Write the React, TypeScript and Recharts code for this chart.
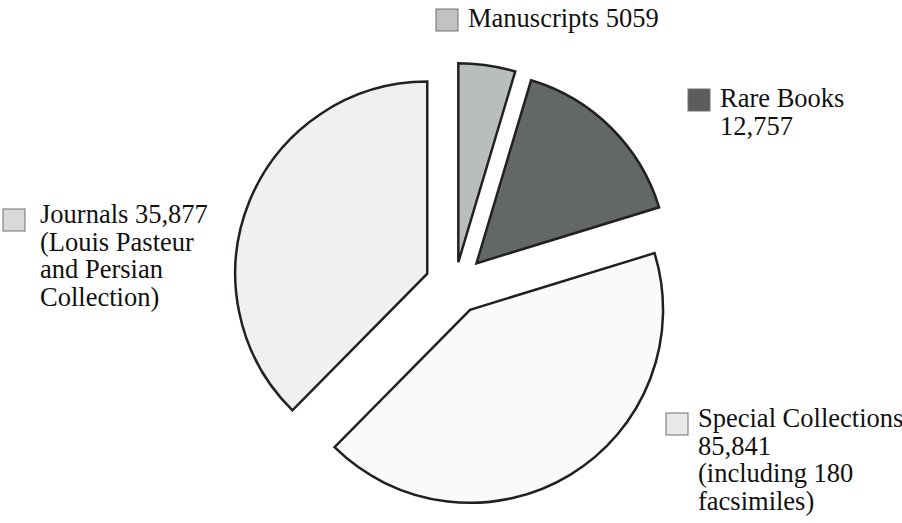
import { Cell, Pie, PieChart } from 'recharts';

// slice order is clockwise from 12 o'clock
const categories = ['Manuscripts', 'Rare Books', 'Special Collections', 'Journals'];
// share of the circle each slice takes in the picture (percent)
const shares = [4.6, 15.6, 42.0, 37.5];
const labelLines = [
    ['Manuscripts 5059'],
    ['Rare Books', '12,757'],
    ['Special Collections', '85,841', '(including 180', 'facsimiles)'],
    ['Journals 35,877', '(Louis Pasteur', 'and Persian', 'Collection)'],
];

const data = categories.map((name, i) => ({ name, value: shares[i] }));

const sliceFill = ['#b9bdbe', '#636867', '#fafafa', '#eff0f0'];
const boxFill = ['#c2c2c2', '#5c5c5c', '#e8e8e8', '#dadada'];
const explode = [23, 30.5, 29, 30];
const radius = [199, 191, 193, 192];
const legendPos = [
    { x: 436, y: 9, tx: 468, ty: 27 },
    { x: 688, y: 89, tx: 720, ty: 107 },
    { x: 666, y: 413, tx: 698, ty: 427 },
    { x: 3, y: 209, tx: 40, ty: 223 },
];

const W = 902;
const H = 523;
const CX = 455;
const CY = 285;

const total = shares.reduce((a, b) => a + b, 0);
let acc = 0;
const midAngles = shares.map((v) => {
    const m = 90 - ((acc + v / 2) / total) * 360;
    acc += v;
    return m;
});

const App = () => {
    return (
        <div style={{ position: 'absolute', left: 0, top: 0, width: W, height: H, background: '#fff' }}>
            <PieChart width={W} height={H} margin={{ top: 0, right: 0, bottom: 0, left: 0 }}>
                {categories.map((name, idx) => {
                    const rad = (midAngles[idx] * Math.PI) / 180;
                    return (
                        <Pie
                            key={name}
                            data={data}
                            dataKey="value"
                            nameKey="name"
                            cx={CX + explode[idx] * Math.cos(rad)}
                            cy={CY - explode[idx] * Math.sin(rad)}
                            innerRadius={0}
                            outerRadius={radius[idx]}
                            startAngle={90}
                            endAngle={-270}
                            isAnimationActive={false}
                        >
                            {data.map((d, i) => (
                                <Cell
                                    key={d.name}
                                    fill={i === idx ? sliceFill[i] : 'none'}
                                    stroke={i === idx ? '#1f2221' : 'none'}
                                    strokeWidth={2.5}
                                />
                            ))}
                        </Pie>
                    );
                })}
            </PieChart>
            <svg
                width={W}
                height={H}
                style={{ position: 'absolute', left: 0, top: 0, pointerEvents: 'none' }}
            >
                {labelLines.map((lines, i) => (
                    <g key={categories[i]}>
                        <rect
                            x={legendPos[i].x}
                            y={legendPos[i].y}
                            width={22}
                            height={22}
                            fill={boxFill[i]}
                            stroke="#6e6e6e"
                            strokeWidth={1}
                        />
                        <text
                            x={legendPos[i].tx}
                            y={legendPos[i].ty}
                            fontFamily="'Liberation Serif', 'Times New Roman', serif"
                            fontSize={26.5}
                            fill="#111"
                        >
                            {lines.map((line, j) => (
                                <tspan key={j} x={legendPos[i].tx} dy={j === 0 ? 0 : 27.5}>
                                    {line}
                                </tspan>
                            ))}
                        </text>
                    </g>
                ))}
            </svg>
        </div>
    );
};

export default App;
